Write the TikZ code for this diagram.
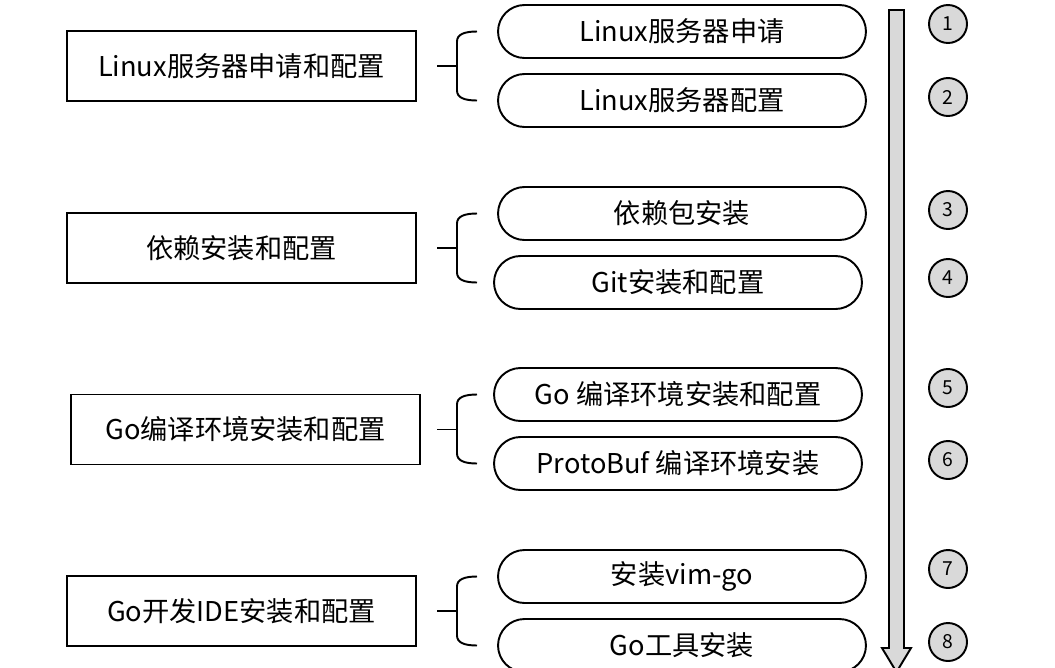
\documentclass[tikz,border=0pt]{standalone}
\usepackage{fontspec}
\setmainfont{Noto Sans CJK SC}
\usepackage{tikz}
\usetikzlibrary{calc}
\definecolor{stepgray}{HTML}{D9D9D9}

\begin{document}
\begin{tikzpicture}[x=0.02cm, y=-0.02cm, line width=1.1pt,
  font=\fontsize{15.5}{18}\selectfont,
  grpbox/.style={draw, minimum width=6.98cm, minimum height=1.4cm, inner sep=0pt},
  stepbox/.style={draw, rounded corners=0.53cm, minimum width=7.36cm, minimum height=1.06cm, inner sep=0pt},
  numdot/.style={draw, circle, fill=stepgray, minimum size=0.76cm, inner sep=0pt, font=\fontsize{11}{12}\selectfont}]
  \useasboundingbox (0,0) rectangle (1055,667);
  \clip (0,0) rectangle (1055,667);

  % Gruppen
  \node[grpbox] (g1) at (241.5,66) {Linux服务器申请和配置};
  \node[grpbox] (g2) at (241.5,248) {依赖安装和配置};
  \node[grpbox] (g3) at (245.5,429.5) {Go编译环境安装和配置};
  \node[grpbox] (g4) at (241.5,611) {Go开发IDE安装和配置};

  % Schritte
  \node[stepbox] (s1) at (682,31.5) {Linux服务器申请};
  \node[stepbox] (s2) at (682,100.5) {Linux服务器配置};
  \node[stepbox] (s3) at (682,213.5) {依赖包安装};
  \node[stepbox] (s4) at (678,282.5) {Git安装和配置};
  \node[stepbox] (s5) at (678,394.5) {Go 编译环境安装和配置};
  \node[stepbox] (s6) at (678,463.5) {ProtoBuf 编译环境安装};
  \node[stepbox] (s7) at (682,576.5) {安装vim-go};
  \node[stepbox] (s8) at (682,645.5) {Go工具安装};

  % Klammern
  \coordinate (stem) at (437,0);
  \coordinate (spine) at (457,0);
  \coordinate (tip) at (477,0);
  \foreach \g/\a/\b in {g1/s1/s2, g2/s3/s4, g3/s5/s6, g4/s7/s8} {
    \draw (\g.east -| stem) -- (\g.east -| spine);
    \draw (\a.west -| tip) .. controls ($(\a.west -| spine)+(7,0)$) and ($(\a.west -| spine)+(0,3)$) .. ($(\a.west -| spine)+(0,10)$)
      -- ($(\b.west -| spine)+(0,-10)$) .. controls ($(\b.west -| spine)+(0,-3)$) and ($(\b.west -| spine)+(7,0)$) .. (\b.west -| tip);
  }

  % Zeitpfeil
  \draw[fill=stepgray] (889,10) -- (904,10) -- (904,648) -- (911,648) -- (896.5,672)
    -- (882,648) -- (889,648) -- cycle;

  % Nummern
  \foreach \i/\y in {1/24, 2/97, 3/210, 4/278, 5/388, 6/460, 7/569, 8/642}
    \node[numdot] (n\i) at (948,\y) {\i};
\end{tikzpicture}
\end{document}
